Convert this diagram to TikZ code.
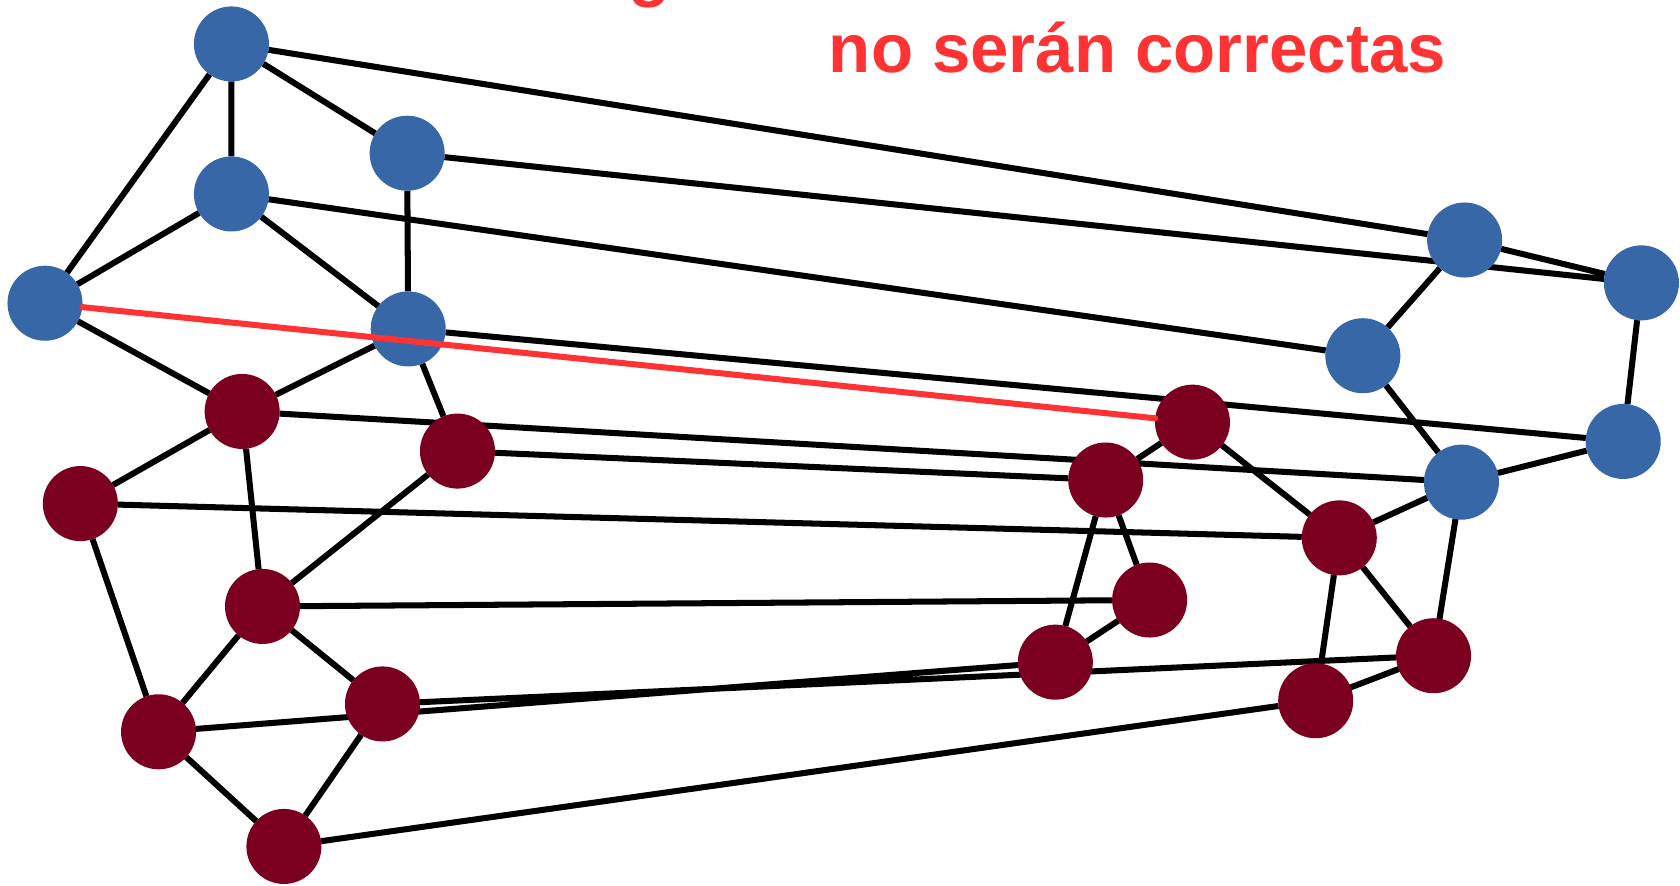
\documentclass[tikz,border=0pt]{standalone}
\usepackage{fontspec}
\setmainfont{Liberation Sans}
\usetikzlibrary{backgrounds}
\definecolor{nodeblue}{RGB}{55,103,166}
\definecolor{nodewine}{RGB}{123,0,32}
\definecolor{alertred}{RGB}{255,51,51}
\begin{document}
\begin{tikzpicture}[x=0.01cm, y=-0.01cm, line join=round, line cap=round,
	bnode/.style={circle, fill=nodeblue, minimum size=0.7cm, inner sep=0pt, outer sep=0pt},
	rnode/.style={circle, fill=nodewine, minimum size=0.7cm, inner sep=0pt, outer sep=0pt},
	edge/.style={line width=1.6pt, shorten <=-3pt, shorten >=-3pt},
	title/.style={text=alertred, font=\fontsize{18.3}{22}\selectfont\bfseries, inner sep=0pt, anchor=base west}]
	\useasboundingbox (0,0) rectangle (1568,826);
	% blue nodes
	\node[bnode] (b1) at (216,41) {};
	\node[bnode] (b2) at (380,143) {};
	\node[bnode] (b3) at (216,181) {};
	\node[bnode] (b4) at (42,283) {};
	\node[bnode] (b5) at (381,307) {};
	\node[bnode] (b6) at (1367,224) {};
	\node[bnode] (b7) at (1532,264) {};
	\node[bnode] (b8) at (1272,332) {};
	\node[bnode] (b9) at (1515,412) {};
	\node[bnode] (b10) at (1364,450) {};
	% red nodes
	\node[rnode] (r1) at (226,384) {};
	\node[rnode] (r2) at (427,421) {};
	\node[rnode] (r3) at (75,470) {};
	\node[rnode] (r4) at (245,566) {};
	\node[rnode] (r5) at (148,683) {};
	\node[rnode] (r6) at (357,657) {};
	\node[rnode] (r7) at (265,790) {};
	\node[rnode] (r8) at (1113,394) {};
	\node[rnode] (r9) at (1032,448) {};
	\node[rnode] (r10) at (1250,502) {};
	\node[rnode] (r11) at (1073,560) {};
	\node[rnode] (r12) at (985,618) {};
	\node[rnode] (r13) at (1338,612) {};
	\node[rnode] (r14) at (1228,654) {};
	\begin{pgfonlayer}{background}
	\draw[edge]
	(b1)--(b2) (b1)--(b3) (b1)--(b4) (b1)--(b6)
	(b2)--(b5) (b2)--(b7)
	(b3)--(b4) (b3)--(b5) (b3)--(b8)
	(b4)--(r1)
	(b5)--(r1) (b5)--(r2) (b5)--(b9)
	(b6)--(b7) (b6)--(b8)
	(b7)--(b9) (b8)--(b10) (b9)--(b10)
	(b10)--(r10) (b10)--(r13)
	;
	\draw[edge]
	(r1)--(b10) (r1)--(r3) (r1)--(r4)
	(r2)--(r9) (r2)--(r4)
	(r3)--(r10) (r3)--(r5)
	(r4)--(r11) (r4)--(r5) (r4)--(r6)
	(r5)--(r12) (r5)--(r7)
	(r6)--(r7) (r6)--(r13)
	(r7)--(r14)
	(r8)--(r9) (r8)--(r10)
	(r9)--(r11) (r9)--(r12)
	(r11)--(r12)
	(r10)--(r14) (r10)--(r13)
	(r14)--(r13)
	;
	\end{pgfonlayer}
	\draw[line width=1.6pt, alertred] (b4)--(r8);
	\node[title] (top) at (586,-6) {g};
	\node[title] (msg) at (773,68) {no serán correctas};
\end{tikzpicture}
\end{document}
